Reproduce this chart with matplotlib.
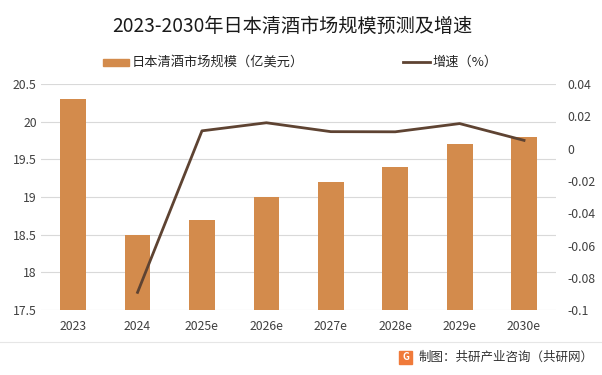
import matplotlib.pyplot as plt
import numpy as np

plt.rcParams['font.family'] = ['Noto Sans CJK SC', 'DejaVu Sans']

years = ['2023', '2024', '2025e', '2026e', '2027e', '2028e', '2029e', '2030e']
market_size = [20.3, 18.5, 18.7, 19.0, 19.2, 19.4, 19.7, 19.8]
growth = [None, -0.089, 0.011, 0.016, 0.0105, 0.0104, 0.0155, 0.0051]

bar_color = '#D38B4C'
line_color = '#5E4332'

fig = plt.figure(figsize=(6.02, 3.75), dpi=100)
ax = fig.add_axes([0.068, 0.173, 0.856, 0.603])
x = np.arange(len(years))

ax.bar(x, [v - 17.5 for v in market_size], bottom=17.5, width=0.4, color=bar_color, zorder=2)
ax.set_ylim(17.5, 20.5)
ax.set_xlim(-0.5, len(years) - 0.5)
ax.set_yticks(np.arange(17.5, 20.51, 0.5))
ax.set_yticklabels(['17.5', '18', '18.5', '19', '19.5', '20', '20.5'])
ax.set_xticks(x)
ax.set_xticklabels(years)
ax.grid(axis='y', color='#D9D9D9', linewidth=0.8, zorder=0)
for s in ax.spines.values():
    s.set_visible(False)
ax.tick_params(length=0, labelsize=8.8, colors='#404040', pad=3)
ax.tick_params(axis='x', pad=7)

ax2 = ax.twinx()
gx = [i for i, g in enumerate(growth) if g is not None]
gy = [g for g in growth if g is not None]
ax2.plot(gx, gy, color=line_color, linewidth=2, zorder=3)
ax2.set_ylim(-0.1, 0.04)
ax2.set_yticks(np.arange(-0.1, 0.041, 0.02))
ax2.set_yticklabels(['-0.1', '-0.08', '-0.06', '-0.04', '-0.02', '0', '0.02', '0.04'])
for s in ax2.spines.values():
    s.set_visible(False)
ax2.tick_params(length=0, labelsize=8.8, colors='#404040', pad=8)

# title
fig.text(292 / 602, 1 - 26 / 375, '2023-2030年日本清酒市场规模预测及增速', ha='center', va='center',
         fontsize=13.8, color='#1a1a1a')

# legend
fig.patches.append(plt.Rectangle((103 / 602, 1 - 66 / 375), 26 / 602, 7 / 375,
                                 transform=fig.transFigure, color=bar_color))
fig.text(132 / 602, 1 - 62 / 375, '日本清酒市场规模（亿美元）', va='center', fontsize=9.5, color='#262626')
fig.lines.append(plt.Line2D([403 / 602, 430 / 602], [1 - 62 / 375, 1 - 62 / 375],
                            transform=fig.transFigure, color=line_color, linewidth=2))
fig.text(432 / 602, 1 - 62 / 375, '增速（%）', va='center', fontsize=9.5, color='#262626')

# footer
fig.lines.append(plt.Line2D([0, 1], [1 - 342 / 375, 1 - 342 / 375],
                            transform=fig.transFigure, color='#E6E6E6', linewidth=0.8))
fig.patches.append(plt.Rectangle((399 / 602, 1 - 364 / 375), 13 / 602, 13 / 375,
                                 transform=fig.transFigure, color='#F07A3A'))
fig.text(405.5 / 602, 1 - 357.5 / 375, 'G', ha='center', va='center', fontsize=7,
         color='white', fontweight='bold')
fig.text(419 / 602, 1 - 357 / 375, '制图：共研产业咨询（共研网）', va='center', fontsize=9, color='#333333')

fig.savefig('out.png', dpi=100)
